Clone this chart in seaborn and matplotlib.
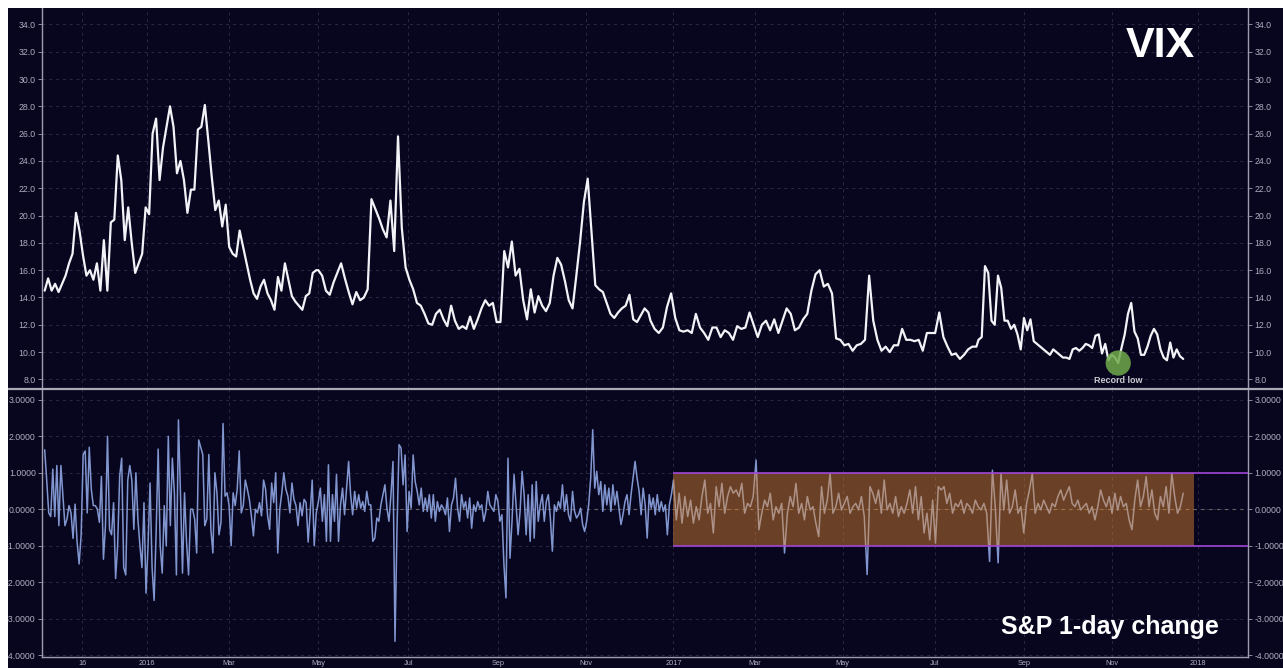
import numpy as np
import pandas as pd
import matplotlib
matplotlib.use('Agg')
import matplotlib.pyplot as plt
from matplotlib.patches import Rectangle
from matplotlib.lines import Line2D
import seaborn as sns

# NYSE holidays -> x axis counts trading days
holidays = ['2015-11-26', '2015-12-25', '2016-01-01', '2016-01-18', '2016-02-15',
            '2016-03-25', '2016-05-30', '2016-07-04', '2016-09-05', '2016-11-24',
            '2016-12-26', '2017-01-02', '2017-01-16', '2017-02-20', '2017-04-14',
            '2017-05-29', '2017-07-04', '2017-09-04', '2017-11-23', '2017-12-25',
            '2018-01-01', '2018-01-15']

# VIX close in four stretches
vix_spans = [('2015-10-21', '2016-04-29'), ('2016-05-02', '2016-12-14'),
             ('2016-12-15', '2017-08-01'), ('2017-08-02', '2017-12-20')]
vix_1 = [14.5, 15.4, 14.5, 15.0, 14.4, 15.0, 15.6, 16.5, 17.2, 20.2, 18.9, 17.1, 15.6, 16.0,
         15.3, 16.5, 14.5, 18.2, 14.5, 19.5, 19.7, 24.4, 22.6, 18.2, 20.6, 18.0, 15.8, 16.5,
         17.2, 20.6, 20.1, 26.0, 27.1, 22.6, 25.0, 26.5, 28.0, 26.5, 23.1, 24.0, 22.6, 20.2,
         21.9, 21.9, 26.3, 26.5, 28.1, 25.5, 22.8, 20.4, 21.1, 19.2, 20.8, 17.7, 17.2, 17.0,
         18.9, 17.7, 16.5, 15.3, 14.3, 13.9, 14.8, 15.3, 14.3, 13.8, 13.1, 15.5, 14.5, 16.5,
         15.3, 14.1, 13.7, 13.4, 13.1, 14.1, 14.3, 15.8, 16.0]
vix_2 = [16.0, 15.6, 14.5, 14.2, 15.1, 15.8, 16.5, 15.4, 14.4, 13.5, 14.4, 13.8, 14.0, 14.6,
         21.2, 20.5, 19.8, 19.0, 18.4, 21.1, 17.4, 25.8, 19.1, 16.2, 15.3, 14.6, 13.6, 13.4,
         12.8, 12.1, 12.0, 12.8, 13.1, 12.4, 11.9, 13.4, 12.3, 11.7, 11.9, 11.7, 12.6, 11.7,
         12.4, 13.2, 13.8, 13.4, 13.6, 12.2, 12.2, 17.4, 16.2, 18.1, 15.6, 16.1, 13.8, 12.4,
         14.6, 12.9, 14.1, 13.4, 13.0, 13.6, 15.6, 16.9, 16.4, 15.2, 13.8, 13.2, 15.6, 18.1,
         21.0, 22.7, 18.8, 14.9, 14.6, 14.4, 13.6, 12.8, 12.5, 12.9, 13.2, 13.4, 14.2, 12.4,
         12.2, 12.7, 13.2, 12.9]
vix_3 = [12.3, 11.7, 11.4, 11.8, 13.3, 14.3, 12.5, 11.6, 11.5, 11.6, 11.4, 12.8, 11.8, 11.4,
         10.9, 11.8, 11.8, 11.1, 11.6, 11.4, 10.9, 11.9, 11.7, 11.8, 12.9, 12.0, 11.1, 12.0,
         12.3, 11.6, 12.4, 11.4, 12.3, 13.2, 12.8, 11.6, 11.8, 12.4, 12.8, 14.5, 15.7, 16.0,
         14.8, 15.0, 14.3, 11.0, 10.9, 10.5, 10.6, 10.1, 10.5, 10.6, 10.9, 15.6, 12.3, 10.9,
         10.1, 10.4, 10.0, 10.5, 10.5, 11.7, 10.9, 10.9, 10.8, 10.9, 10.1, 11.4, 11.4, 11.4,
         12.9, 11.1, 10.4, 9.8, 9.9, 9.5, 9.8, 10.2, 10.4, 10.4]
vix_4 = [10.9, 11.1, 16.3, 15.8, 12.3, 12.0, 15.6, 14.7, 12.3, 12.3, 11.7, 12.0, 11.3, 10.2,
         12.5, 11.6, 12.4, 10.8, 10.6, 10.4, 10.2, 10.0, 9.8, 10.2, 10.0, 9.8, 9.6, 9.6,
         9.5, 10.2, 10.3, 10.1, 10.3, 10.6, 10.5, 10.3, 11.2, 11.3, 9.9, 10.6, 9.4, 9.8,
         9.6, 9.2, 10.3, 11.3, 12.8, 13.6, 11.5, 11.0, 9.8, 9.8, 10.4, 11.2, 11.7, 11.3,
         10.2, 9.6, 9.4, 10.7, 9.6, 10.2, 9.7, 9.5]

# S&P 500 1-day % change
spx_spans = [('2015-10-21', '2016-04-29'), ('2016-05-02', '2016-12-30'),
             ('2017-01-03', '2017-12-20')]
spx_1 = [1.63, 0.8, -0.1, -0.2, 1.1, -0.2, 1.2, -0.45, 1.2, 0.36, -0.45, -0.27, 0.1, -0.1,
         -0.8, 0.14, -0.9, -1.5, -0.7, 1.5, 1.6, -0.1, 1.7, 0.55, 0.1, 0.1, 0.0, -0.36, 0.9,
         -1.37, -0.45, 2.0, -0.55, -0.7, 0.18, -1.9, -1.0, 0.9, 1.4, -1.6, -1.8, 0.8, 1.2,
         0.8, -0.55, 1.0, -0.27, -1.0, -1.6, 0.18, -2.3, -1.0, 0.72, -1.6, -2.5, -0.64, 1.65,
         -1.0, -1.75, 0.1, -1.0, 2.0, -0.45, 1.4, 0.45, -1.8, 2.45, 0.45, -1.75, 0.45, -0.9,
         -1.8, 0.0, 0.0, -0.27, -1.2, 1.9, 1.7, 1.5, -0.45, -0.27, 1.5, -0.55, -1.2, 1.0,
         0.45, -0.7, -0.36, 2.35, 0.36, 0.45, 0.1, -1.0, 0.45, 0.1, 0.55, 1.6, -0.1, 0.1, 0.8,
         0.55, 0.27, -0.18, -0.73, 0.0, -0.1, 0.18, -0.18, 0.8, 0.55, -0.18, -0.55, 0.72,
         0.18, 1.0, -1.2, 0.0, 0.45, 1.0, 0.55, 0.36, -0.1, 0.72, 0.27, 0.1, -0.45, 0.18,
         -0.18, 0.27, 0.18, -0.9, -0.1, 0.8, -1.0, -0.1]
spx_2 = [0.2, 0.58, -0.33, 0.4, -0.88, 1.22, -0.88, 0.4, -0.33, 0.95, -0.88, 0.12, 0.58,
         -0.15, 0.58, 1.31, 0.4, -0.15, 0.49, 0.03, 0.4, 0.03, 0.21, -0.06, 0.49, 0.12, 0.12,
         -0.88, -0.79, -0.24, -0.33, 0.12, 0.4, 0.67, 0.03, -0.33, 0.4, 1.31, -3.62, -0.52,
         1.77, 1.68, 0.67, 1.49, -0.61, 0.49, 0.03, 1.49, 0.76, 0.49, 0.12, 0.58, -0.06, 0.31,
         -0.06, 0.4, -0.24, 0.4, -0.33, 0.21, -0.06, 0.12, 0.03, -0.15, 0.31, -0.61, 0.12,
         0.31, 0.85, 0.03, -0.33, 0.4, 0.03, 0.21, -0.24, 0.31, -0.52, 0.12, -0.06, 0.21,
         0.03, 0.12, -0.33, -0.06, 0.49, 0.12, 0.03, -0.06, 0.4, 0.21, -0.33, -0.15, -1.52,
         -2.43, 1.4, -1.34, -0.33, 0.95, 0.12, -0.7, -0.06, 1.04, 0.4, -0.7, 0.4, -0.88, 0.67,
         -0.79, 0.76, -0.33, 0.12, 0.4, -0.33, 0.21, 0.4, -0.24, -1.15, 0.12, -0.06, 0.21,
         0.03, 0.67, -0.06, 0.4, -0.15, -0.33, 0.49, -0.06, -0.24, -0.15, 0.03, -0.42, -0.61,
         -0.33, 0.12, 0.85, 2.18, 0.58, 1.04, 0.4, 0.76, -0.06, 0.67, 0.12, 0.58, -0.06, 0.67,
         0.12, 0.49, 0.03, -0.42, -0.15, 0.21, 0.4, -0.15, 0.4, 0.85, 1.31, 0.85, 0.49, -0.15,
         0.58, 0.12, -0.79, 0.4, 0.03, 0.31, -0.15, 0.4, -0.06, 0.21, -0.06, 0.12, -0.7, 0.12,
         0.4]
spx_3 = [0.8, -0.29, 0.44, -0.38, 0.35, -0.2, 0.25, -0.38, 0.07, -0.29, 0.35, 0.8, -0.11,
         0.16, -0.65, 0.62, 0.07, 0.71, -0.11, 0.35, 0.62, 0.44, 0.53, 0.35, 0.71, -0.11,
         0.16, 0.07, 0.35, 1.35, -0.56, -0.11, 0.25, 0.07, 0.44, -0.29, 0.07, -0.11, 0.16,
         -1.2, -0.11, 0.35, 0.07, 0.71, -0.11, 0.16, -0.29, 0.35, -0.02, 0.07, -0.38, -0.75,
         0.62, -0.11, 0.25, 0.98, -0.11, 0.07, 0.44, -0.02, 0.16, 0.35, -0.11, 0.07, 0.16,
         -0.02, 0.35, -0.2, -1.79, 0.62, 0.44, 0.16, 0.53, -0.11, 0.8, -0.02, 0.16, -0.11,
         0.35, -0.2, 0.07, -0.11, 0.16, 0.53, -0.11, 0.62, -0.29, 0.35, -0.65, -0.11, -0.84,
         0.25, -0.93, 0.62, 0.53, 0.62, 0.16, 0.44, -0.11, 0.16, 0.07, 0.25, -0.11, 0.16,
         0.07, -0.11, 0.25, 0.07, -0.02, 0.16, -0.11, -1.43, 1.07, 0.07, -1.47, 0.98, -0.02,
         0.8, -0.11, 0.07, 0.53, -0.11, 0.07, -0.65, 0.16, 0.53, 0.98, -0.11, 0.16, -0.02,
         0.25, 0.07, -0.11, 0.16, 0.07, 0.35, 0.53, 0.25, 0.44, 0.62, 0.16, 0.07, 0.25, -0.02,
         0.07, 0.16, -0.11, 0.07, -0.29, 0.07, 0.53, 0.25, 0.07, 0.35, -0.11, 0.44, -0.02,
         0.35, 0.07, 0.16, -0.29, -0.56, 0.25, 0.8, 0.07, 0.35, 0.89, 0.07, 0.53, -0.11,
         -0.29, 0.35, 0.07, 0.62, -0.11, 0.98, 0.35, -0.11, 0.07, 0.44]

tick_dates = ['2015-11-16', '2016-01-01', '2016-03-01', '2016-05-01', '2016-07-01',
              '2016-09-01', '2016-11-01', '2017-01-01', '2017-03-01', '2017-05-01',
              '2017-07-01', '2017-09-01', '2017-11-01', '2018-01-01']
tick_labels = ['16', '2016', 'Mar', 'May', 'Jul', 'Sep', 'Nov', '2017', 'Mar', 'May',
               'Jul', 'Sep', 'Nov', '2018']
band_dates = ('2017-01-01', '2017-12-28')
band_levels = (-1.0, 1.0)


def tday(d):
    # trading-day index, 0 = first session of 2016
    return np.busday_count('2016-01-01', d, holidays=holidays)


def build(spans, parts):
    xs, ys = [], []
    for (a, b), vals in zip(spans, parts):
        xs.append(np.linspace(tday(a), tday(b), len(vals)))
        ys.append(np.array(vals, dtype=float))
    return pd.DataFrame({'t': np.concatenate(xs), 'v': np.concatenate(ys)})


vix = build(vix_spans, [vix_1, vix_2, vix_3, vix_4])
spx = build(spx_spans, [spx_1, spx_2, spx_3])

BG = '#08061f'
GRID = '#2a2946'
SPINE = '#9c9cae'
TICK = '#aeaec0'

sns.set_style('dark')
plt.rcParams['font.family'] = ['Liberation Sans', 'DejaVu Sans']
plt.rcParams['axes.unicode_minus'] = False

fig = plt.figure(figsize=(12.83, 6.68), dpi=100, facecolor='white')
fig.patches.append(Rectangle((8 / 1283, 0), 1, 1, transform=fig.transFigure,
                             facecolor=BG, edgecolor='none', zorder=-1))
ax1 = fig.add_axes([0.0327, 0.4177, 0.9400, 0.5703])
ax2 = fig.add_axes([0.0327, 0.0165, 0.9400, 0.3997])

xlim = (-50.3, 527.0)
xticks = [tday(d) for d in tick_dates]

for ax in (ax1, ax2):
    ax.set_facecolor(BG)
    ax.set_xlim(*xlim)
    ax.set_xticks(xticks)
    ax.grid(True, color=GRID, linestyle=(0, (3, 4)), linewidth=0.7)
    ax.tick_params(axis='y', which='both', colors=SPINE, labelcolor=TICK,
                   labelsize=6.3, length=3, width=0.6, pad=1.5,
                   left=True, right=True, labelleft=True, labelright=True)
    for side in ('left', 'right', 'bottom'):
        ax.spines[side].set_visible(True)
        ax.spines[side].set_color(SPINE)
        ax.spines[side].set_linewidth(1.0)
    ax.spines['top'].set_visible(False)

# top panel: VIX
sns.lineplot(data=vix, x='t', y='v', ax=ax1, color='#f2f2f7', linewidth=1.6,
             estimator=None, sort=False, zorder=3)
ax1.set_ylim(7.3, 35.2)
ax1.set_yticks(np.arange(8, 35, 2))
ax1.set_yticklabels([f'{v:.1f}' for v in np.arange(8, 35, 2)])
ax1.set_xticklabels([])
ax1.tick_params(axis='x', length=0)
ax1.spines['bottom'].set_visible(False)
ax1.set_xlabel('')
ax1.set_ylabel('')

i_low = int(np.argmin(vix_4))
x_low = np.linspace(tday(vix_spans[3][0]), tday(vix_spans[3][1]), len(vix_4))[i_low]
ax1.scatter([x_low], [vix_4[i_low]], s=330, color='#6fa94b', alpha=0.85,
            edgecolors='none', zorder=4)
ax1.annotate('Record low', xy=(x_low, vix_4[i_low]), xytext=(0, -12.5),
             textcoords='offset points', ha='center', va='center',
             fontsize=6.5, fontweight='bold', color='#c9c9cf', zorder=5)

# bottom panel: S&P 1-day change
sns.lineplot(data=spx, x='t', y='v', ax=ax2, color='#8196cf', linewidth=1.1,
             estimator=None, sort=False, zorder=2)
ax2.set_ylim(-4.05, 3.27)
ax2.set_yticks(np.arange(-4, 4, 1))
ax2.set_yticklabels([f'{v:.4f}' for v in np.arange(-4, 4, 1)])
ax2.set_xticklabels(tick_labels)
ax2.tick_params(axis='x', colors=SPINE, labelcolor=TICK, labelsize=5.3,
                length=2, width=0.6, pad=0.5)
ax2.axhline(0, color='#6e625c', linestyle=(0, (3, 4)), linewidth=0.8, zorder=1)
b0, b1 = tday(band_dates[0]), tday(band_dates[1])
ax2.fill_between([b0, b1], band_levels[0], band_levels[1], color='#e38b2f',
                 alpha=0.45, linewidth=0, zorder=3)
ax2.hlines(band_levels, b0, xlim[1], color='#a045d6', linewidth=1.2, zorder=4)
ax2.set_xlabel('')
ax2.set_ylabel('')

# panel separator and frame edges
fig.add_artist(Line2D([8 / 1283, 1], [0.4177, 0.4177], transform=fig.transFigure,
                      color='#a9a9b8', linewidth=1.6, zorder=6))
fig.add_artist(Rectangle((0, 0), 8 / 1283, 1, transform=fig.transFigure,
                         facecolor='white', edgecolor='none', zorder=10))
fig.add_artist(Rectangle((0, 1 - 8 / 668), 1, 8 / 668, transform=fig.transFigure,
                         facecolor='white', edgecolor='none', zorder=10))

fig.text(0.904, 0.931, 'VIX', ha='center', va='center', fontsize=31,
         fontweight='bold', color='white')
fig.text(0.8655, 0.0614, 'S&P 1-day change', ha='center', va='center', fontsize=18,
         fontweight='bold', color='white')

fig.savefig('out.png', dpi=100, facecolor=fig.get_facecolor())
